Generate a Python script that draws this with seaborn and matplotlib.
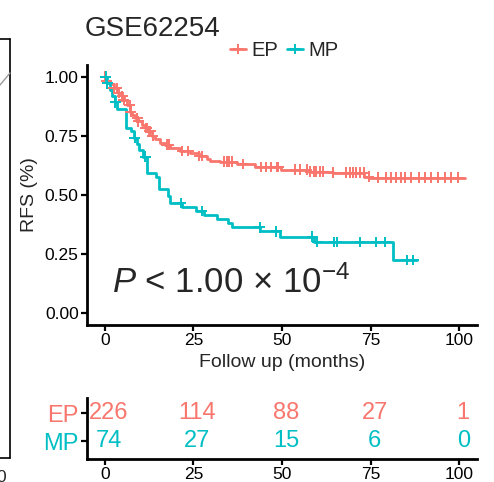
import numpy as np
import pandas as pd
import matplotlib
matplotlib.use("Agg")
import matplotlib.pyplot as plt
from matplotlib.lines import Line2D
from matplotlib.transforms import offset_copy
import seaborn as sns

# ---- data -------------------------------------------------------------
groups = ["EP", "MP"]
colors = {"EP": "#F8766D", "MP": "#00BFC4"}

# Kaplan-Meier step points (time in months, survival after the step)
ep_time = [0, 0.3, 1.5, 2.5, 3.8, 4.8, 5.4, 6.2, 7.1, 7.7, 8.6, 9.5, 10.5, 11.4,
           12.3, 13.3, 14.3, 15.6, 17.0, 18.4, 21.2, 24.0, 26.5, 28.8, 29.8,
           32.6, 37.3, 42.3, 49.8, 57.5, 64.5, 73.2, 74.5]
ep_surv = [1.0, 0.982, 0.968, 0.953, 0.932, 0.917, 0.902, 0.881, 0.853, 0.840,
           0.826, 0.811, 0.797, 0.783, 0.769, 0.751, 0.736, 0.722, 0.713, 0.700,
           0.686, 0.676, 0.665, 0.652, 0.645, 0.641, 0.631, 0.618, 0.607, 0.599,
           0.594, 0.578, 0.573]
ep_end = 101.5

mp_time = [0, 0.6, 1.5, 2.1, 3.0, 3.5, 5.9, 7.3, 8.2, 9.0, 9.8, 10.8, 11.9, 14.6,
           15.2, 17.9, 18.4, 21.7, 25.8, 27.9, 31.6, 34.9, 35.9, 43.9, 49.5,
           58.9, 81.3]
mp_surv = [1.0, 0.973, 0.946, 0.919, 0.892, 0.865, 0.784, 0.770, 0.743, 0.716,
           0.689, 0.662, 0.594, 0.578, 0.527, 0.497, 0.466, 0.449, 0.432, 0.415,
           0.398, 0.381, 0.364, 0.347, 0.324, 0.301, 0.225]
mp_end = 88.0

# censoring times
ep_cens = [0.2, 0.5, 2.5, 3.4, 3.9, 5.0, 5.4, 7.0, 7.3, 9.2, 9.5, 11.5, 11.8,
           12.5, 12.9, 13.5, 17.5, 18.0, 21.8, 23.6, 26.6, 27.4, 33.5, 34.4,
           35.0, 36.0, 39.0, 44.0, 45.6, 47.0, 48.5, 49.0, 53.8, 55.2, 57.0,
           58.0, 59.0, 59.7, 60.8, 61.7, 64.5, 68.0, 69.3, 70.1, 71.0, 72.1,
           73.0, 74.4, 77.2, 79.4, 80.8, 82.2, 83.7, 84.8, 86.5, 88.5, 90.4,
           92.1, 94.1, 96.0, 97.7, 99.7]
mp_cens = [0.3, 0.7, 3.0, 8.5, 11.4, 21.4, 27.4, 43.7, 48.4, 58.6, 60.0, 64.7,
           65.4, 72.0, 76.5, 79.1, 85.2, 87.0]

# number at risk
risk_times = [0, 25, 50, 75, 100]
ep_risk = [226, 114, 88, 27, 1]
mp_risk = [74, 27, 15, 6, 0]

x_ticks = [0, 25, 50, 75, 100]
y_ticks = [0.0, 0.25, 0.50, 0.75, 1.00]
title = "GSE62254"

# ---- build long tables --------------------------------------------------
def curve_frame(name, t, s, end):
    tt = list(t) + [end]
    ss = list(s) + [s[-1]]
    return pd.DataFrame({"time": tt, "surv": ss, "group": name})

def censor_frame(name, t, s, ct):
    t = np.asarray(t)
    idx = np.searchsorted(t, ct, side="right") - 1
    return pd.DataFrame({"time": ct, "surv": np.asarray(s)[idx], "group": name})

curves = pd.concat([curve_frame("EP", ep_time, ep_surv, ep_end),
                    curve_frame("MP", mp_time, mp_surv, mp_end)])
cens = pd.concat([censor_frame("EP", ep_time, ep_surv, ep_cens),
                  censor_frame("MP", mp_time, mp_surv, mp_cens)])

# ---- style --------------------------------------------------------------
sns.set_theme(style="ticks")
plt.rcParams["font.family"] = ["Liberation Sans", "DejaVu Sans"]
plt.rcParams["mathtext.fontset"] = "custom"
plt.rcParams["mathtext.rm"] = "Liberation Sans"
plt.rcParams["mathtext.it"] = "Liberation Sans:italic"

W, H = 494, 482
fig = plt.figure(figsize=(W / 100, H / 100), dpi=100)

def px_axes(l, t, r, b):
    return fig.add_axes([l / W, 1 - b / H, (r - l) / W, (b - t) / H])

ax = px_axes(87, 65, 477, 325)
axr = px_axes(87, 398, 477, 459)

TICK = 12.5
RISK = 17

# ---- survival curves ------------------------------------------------------
sns.lineplot(data=curves, x="time", y="surv", hue="group", palette=colors,
             hue_order=groups, estimator=None, sort=False,
             drawstyle="steps-post", linewidth=2.0, legend=False, ax=ax)
sns.scatterplot(data=cens, x="time", y="surv", hue="group", palette=colors,
                hue_order=groups, marker="+", s=60, linewidth=1.4,
                legend=False, ax=ax, zorder=3)

ax.set_xlim(-5, 105)
ax.set_ylim(-0.05, 1.05)
ax.set_xticks(x_ticks)
ax.set_yticks(y_ticks)
ax.set_yticklabels([f"{v:.2f}" for v in y_ticks])
ax.set_xlabel("Follow up (months)", fontsize=14, labelpad=4)
ax.set_ylabel("RFS (%)", fontsize=14, labelpad=5)
ax.set_title(title, loc="left", fontsize=20, pad=21, x=-0.005)

ax.text(0.065, 0.123, r"$\mathit{P}$ < 1.00 × 10$^{-4}$",
        transform=ax.transAxes, fontsize=25, va="baseline", ha="left")

handles = [Line2D([], [], color=colors[g], marker="+", markersize=7,
                  markeredgewidth=1.4, linewidth=2.0) for g in groups]
fig.legend(handles, groups, loc="center", bbox_to_anchor=(284 / W, 1 - 51 / H),
           ncol=2, frameon=False, fontsize=14.5, handlelength=0.8,
           handletextpad=0.25, columnspacing=0.45, borderaxespad=0)

# ---- number-at-risk table ---------------------------------------------------
num_tr = offset_copy(axr.transData, fig=fig, x=4, y=0, units="dots")
rows = {"EP": (1, ep_risk), "MP": (0, mp_risk)}
for g, (yrow, vals) in rows.items():
    for t, v in zip(risk_times, vals):
        axr.text(t, yrow, str(v), color=colors[g], fontsize=RISK,
                 ha="center", va="center", transform=num_tr)
axr.set_xlim(-5, 105)
axr.set_ylim(-0.64, 1.54)
axr.set_xticks(x_ticks)
axr.set_yticks([1, 0])
axr.set_yticklabels(["EP", "MP"])
axr.set_xlabel("")
axr.set_ylabel("")

for a in (ax, axr):
    sns.despine(ax=a)
    for sp in ("left", "bottom"):
        a.spines[sp].set_linewidth(2.0)
        a.spines[sp].set_color("black")
    a.tick_params(width=1.6, length=4, color="black", labelcolor="black",
                  labelsize=TICK, pad=2)
for lab, g in zip(axr.get_yticklabels(), ["EP", "MP"]):
    lab.set_color(colors[g])
    lab.set_fontsize(RISK)

# ---- edge of the neighbouring panel ---------------------------------------
fig.add_artist(Line2D([0, 10 / W], [1 - 39 / H, 1 - 39 / H], color="black",
                      linewidth=1.2, transform=fig.transFigure))
fig.add_artist(Line2D([10 / W, 10 / W], [1 - 39 / H, 1 - 458 / H],
                      color="black", linewidth=1.2, transform=fig.transFigure))
fig.add_artist(Line2D([0, 10 / W], [1 - 458 / H, 1 - 458 / H], color="black",
                      linewidth=1.2, transform=fig.transFigure))
fig.add_artist(Line2D([0, 10 / W], [1 - 85 / H, 1 - 73 / H], color="#999999",
                      linewidth=1.0, transform=fig.transFigure))
fig.text(6 / W, 1 - 478 / H, "0", fontsize=TICK, ha="right", va="center")

fig.savefig("out.png", dpi=100)
